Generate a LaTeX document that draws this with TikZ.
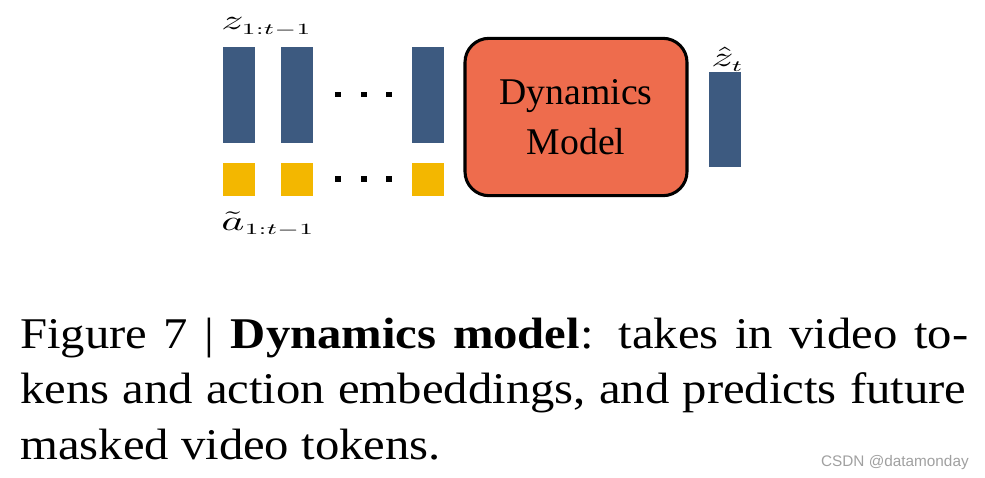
\documentclass[tikz,border=0pt]{standalone}
\usepackage{fontspec}
\usepackage{graphicx}
\newfontfamily\capfont[FakeStretch=1.11]{Liberation Serif}
\newfontfamily\boxfont{Liberation Serif}
\newfontfamily\wmfont{Liberation Sans}
\definecolor{tokblue}{HTML}{3D5A80}
\definecolor{actyellow}{HTML}{F3B700}
\definecolor{dynorange}{HTML}{EE6C4D}
\definecolor{wmgray}{HTML}{A0A0A0}
\newcommand{\sublab}[1]{\scalebox{0.8}{$\scriptstyle #1$}}
\newcommand{\biglab}[1]{\scalebox{3.3}[2.1]{$#1$}}
\tikzset{
  zbar/.style={rectangle, fill=tokblue, inner sep=0pt, minimum width=24pt, minimum height=72pt},
  abox/.style={rectangle, fill=actyellow, inner sep=0pt, minimum width=24pt, minimum height=25pt},
  dotsq/.style={rectangle, fill=black, inner sep=0pt, minimum size=4.3pt},
  dynbox/.style={rectangle, rounded corners=18pt, draw=black, line width=2.3pt, fill=dynorange,
     minimum width=166.5pt, minimum height=118pt, align=center, inner sep=0pt,
     font=\boxfont\fontsize{28.3}{37.5}\selectfont},
  mlabel/.style={inner sep=0pt, anchor=base west},
  capline/.style={inner sep=0pt, anchor=base west, font=\capfont\fontsize{32.9}{41.6}\selectfont},
}
\begin{document}
\begin{tikzpicture}[x=0.75pt,y=-0.75pt]
\useasboundingbox (0,0) rectangle (985,478);
% token bars
\node[zbar] (z1) at (239.3,95.3) {};
\node[zbar] (z2) at (296.7,95.3) {};
\node[zbar] (z3) at (427.9,95.3) {};
\node[abox] (a1) at (239.3,179.3) {};
\node[abox] (a2) at (296.7,179.3) {};
\node[abox] (a3) at (427.9,179.3) {};
% dots
\node[dotsq] (d1) at (337.8,94.5) {};
\node[dotsq] (d2) at (363.7,94.5) {};
\node[dotsq] (d3) at (389.3,94.5) {};
\node[dotsq] (e1) at (337.8,179) {};
\node[dotsq] (e2) at (363.7,179) {};
\node[dotsq] (e3) at (389.3,179) {};
% labels
\node[mlabel] (zl) at (221,30) {\biglab{z_{\sublab{1:t-1}}}};
\node[mlabel] (al) at (221,230.5) {\biglab{\tilde{a}_{\sublab{1:t-1}}}};
% dynamics model
\node[dynbox] (dyn) at (576,117) {Dynamics\\Model};
% output token
\node[zbar, minimum height=71.25pt] (zh) at (725.2,119.2) {};
\node[mlabel] (zhl) at (711,67) {\biglab{\hat{z}_{\sublab{t}}}};
% caption
\node[capline] (c1) at (20,348.3) {\makebox[711pt][s]{Figure 7 | \textbf{Dynamics model}: takes in video to-}};
\node[capline] (c2) at (20,403.3) {\makebox[709.5pt][s]{kens and action embeddings, and predicts future}};
\node[capline] (c3) at (20,459.3) {masked video tokens.};
% watermark
\node[inner sep=0pt, anchor=base east, text=wmgray, font=\wmfont\fontsize{11.5}{13}\selectfont] (wm) at (969,466) {CSDN @datamonday};
\end{tikzpicture}
\end{document}
